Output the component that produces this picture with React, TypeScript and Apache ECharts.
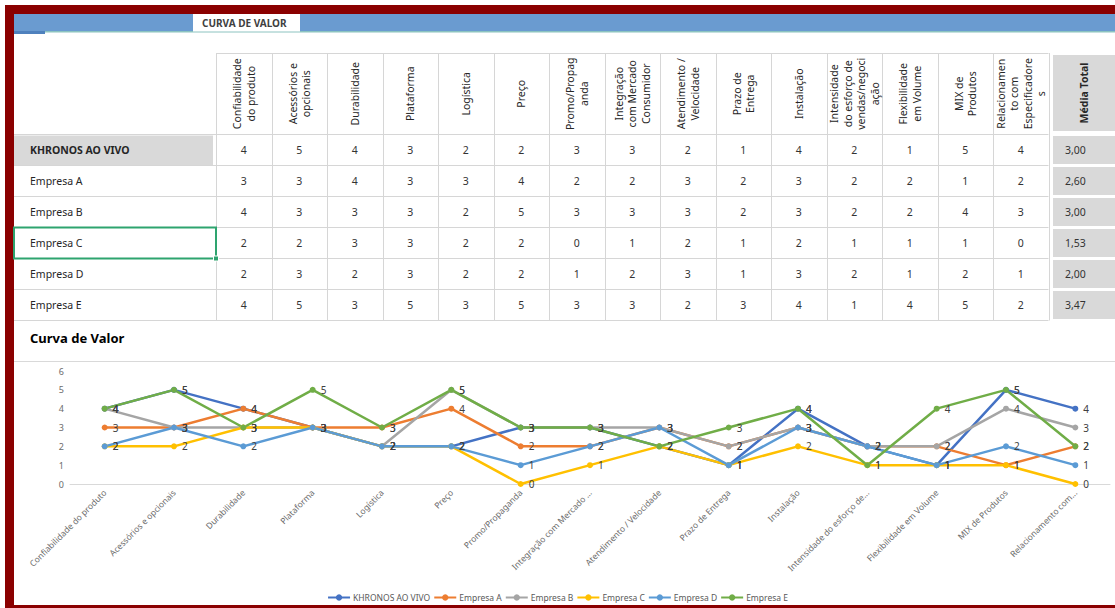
import React, { useEffect, useRef } from "react";
import * as echarts from "echarts";

const headerLabels = [
  "Confiabilidade\ndo produto",
  "Acessórios e\nopcionais",
  "Durabilidade",
  "Plataforma",
  "Logística",
  "Preço",
  "Promo/Propag\nanda",
  "Integração\ncom Mercado\nConsumidor",
  "Atendimento /\nVelocidade",
  "Prazo de\nEntrega",
  "Instalação",
  "Intensidade\ndo esforço de\nvendas/negoci\nação",
  "Flexibilidade\nem Volume",
  "MIX de\nProdutos",
  "Relacionamen\nto com\nEspecificadore\ns",
];

const chartCategories = [
  "Confiabilidade do produto",
  "Acessórios e opcionais",
  "Durabilidade",
  "Plataforma",
  "Logística",
  "Preço",
  "Promo/Propaganda",
  "Integração com Mercado ...",
  "Atendimento / Velocidade",
  "Prazo de Entrega",
  "Instalação",
  "Intensidade do esforço de...",
  "Flexibilidade em Volume",
  "MIX de Produtos",
  "Relacionamento com...",
];

const companies = ["KHRONOS AO VIVO", "Empresa A", "Empresa B", "Empresa C", "Empresa D", "Empresa E"];

const khronos = [4, 5, 4, 3, 2, 2, 3, 3, 2, 1, 4, 2, 1, 5, 4];
const empresaA = [3, 3, 4, 3, 3, 4, 2, 2, 3, 2, 3, 2, 2, 1, 2];
const empresaB = [4, 3, 3, 3, 2, 5, 3, 3, 3, 2, 3, 2, 2, 4, 3];
const empresaC = [2, 2, 3, 3, 2, 2, 0, 1, 2, 1, 2, 1, 1, 1, 0];
const empresaD = [2, 3, 2, 3, 2, 2, 1, 2, 3, 1, 3, 2, 1, 2, 1];
const empresaE = [4, 5, 3, 5, 3, 5, 3, 3, 2, 3, 4, 1, 4, 5, 2];

const averages = ["3,00", "2,60", "3,00", "1,53", "2,00", "3,47"];

const seriesData = [khronos, empresaA, empresaB, empresaC, empresaD, empresaE];
const colors = ["#4472c4", "#ed7d31", "#a5a5a5", "#ffc000", "#5b9bd5", "#70ad47"];

const FONT = "'Noto Sans', 'Open Sans', sans-serif";

function buildGraphic() {
  const els: any[] = [];
  const colLeft = 216;
  const colW = 55.5;
  const headerTop = 53;
  const rowTop0 = 134.5;
  const rowH = 31;
  const nCols = headerLabels.length;
  const tableRight = colLeft + colW * nCols;
  const lineColor = "#d6d6d6";

  // outer frame
  els.push({ type: "rect", shape: { x: 5, y: 5, width: 1110, height: 9 }, style: { fill: "#8a0000" } });
  els.push({ type: "rect", shape: { x: 5, y: 5, width: 9, height: 603 }, style: { fill: "#8a0000" } });
  els.push({ type: "rect", shape: { x: 5, y: 605, width: 1110, height: 3 }, style: { fill: "#8a0000" } });
  // blue band
  els.push({ type: "rect", shape: { x: 14, y: 14, width: 1101, height: 17 }, style: { fill: "#6a9bd0" } });
  els.push({ type: "rect", shape: { x: 14, y: 31, width: 1101, height: 1.5 }, style: { fill: "#8cc3c0" } });
  els.push({ type: "rect", shape: { x: 14, y: 31, width: 31, height: 3 }, style: { fill: "#4f81bd" } });
  els.push({ type: "rect", shape: { x: 193, y: 14, width: 107, height: 17.5 }, style: { fill: "#ffffff" } });
  els.push({
    type: "text", x: 202, y: 23,
    style: { text: "CURVA DE VALOR", font: `bold 10px ${FONT}`, fill: "#404040", verticalAlign: "middle", align: "left" },
  });

  // KHRONOS gray label cell
  els.push({ type: "rect", shape: { x: 14, y: rowTop0 + 1, width: 199, height: rowH - 1.5 }, style: { fill: "#d9d9d9" } });

  // Média Total gray cells
  els.push({ type: "rect", shape: { x: 1053, y: 55, width: 62, height: 76 }, style: { fill: "#d9d9d9" } });
  for (let r = 0; r < companies.length; r++) {
    els.push({
      type: "rect",
      shape: { x: 1053, y: rowTop0 + r * rowH + 1.5, width: 62, height: rowH - 3 },
      style: { fill: "#d9d9d9" },
    });
  }

  // grid lines
  els.push({ type: "line", shape: { x1: colLeft, y1: headerTop + 0.5, x2: tableRight, y2: headerTop + 0.5 }, style: { stroke: lineColor, lineWidth: 1 } });
  for (let r = 0; r <= companies.length; r++) {
    const y = rowTop0 + r * rowH;
    els.push({ type: "line", shape: { x1: 14, y1: y, x2: tableRight, y2: y }, style: { stroke: lineColor, lineWidth: 1 } });
  }
  for (let c = 0; c <= nCols; c++) {
    const x = Math.round(colLeft + c * colW) + 0.5;
    els.push({ type: "line", shape: { x1: x, y1: headerTop, x2: x, y2: rowTop0 + rowH * companies.length }, style: { stroke: lineColor, lineWidth: 1 } });
  }

  // header texts
  headerLabels.forEach((h, c) => {
    els.push({
      type: "text",
      x: colLeft + c * colW + colW / 2,
      y: (headerTop + rowTop0) / 2,
      rotation: Math.PI / 2,
      style: { text: h, font: `10.5px ${FONT}`, fill: "#262626", align: "center", verticalAlign: "middle", lineHeight: 13.5 },
    });
  });
  els.push({
    type: "text", x: 1084, y: 93, rotation: Math.PI / 2,
    style: { text: "Média Total", font: `bold 10.5px ${FONT}`, fill: "#262626", align: "center", verticalAlign: "middle" },
  });

  // rows
  companies.forEach((name, r) => {
    const cy = rowTop0 + r * rowH + rowH / 2;
    els.push({
      type: "text", x: 30, y: cy,
      style: { text: name, font: `${r === 0 ? "bold " : ""}10.5px ${FONT}`, fill: "#262626", align: "left", verticalAlign: "middle" },
    });
    seriesData[r].forEach((v, c) => {
      els.push({
        type: "text", x: colLeft + c * colW + colW / 2, y: cy,
        style: { text: String(v), font: `10.5px ${FONT}`, fill: "#333333", align: "center", verticalAlign: "middle" },
      });
    });
    els.push({
      type: "text", x: 1065, y: cy,
      style: { text: averages[r], font: `10.5px ${FONT}`, fill: "#333333", align: "left", verticalAlign: "middle" },
    });
  });

  // selection border Empresa C
  const selY = rowTop0 + 3 * rowH;
  els.push({ type: "rect", shape: { x: 14, y: selY, width: 202, height: rowH }, style: { fill: "none", stroke: "#2ea46f", lineWidth: 2 } });
  els.push({ type: "rect", shape: { x: 213.5, y: selY + rowH - 2.5, width: 5, height: 5 }, style: { fill: "#2ea46f", stroke: "#ffffff", lineWidth: 1 } });

  // chart title + separator
  els.push({
    type: "text", x: 30, y: 338,
    style: { text: "Curva de Valor", font: `bold 13px ${FONT}`, fill: "#000000", align: "left", verticalAlign: "middle" },
  });
  els.push({ type: "line", shape: { x1: 14, y1: 361.5, x2: 1115, y2: 361.5 }, style: { stroke: "#d9d9d9", lineWidth: 1 } });

  return els;
}

export default function App() {
  const ref = useRef<HTMLDivElement>(null);
  useEffect(() => {
    if (!ref.current) return;
    const chart = echarts.init(ref.current, undefined, { renderer: "svg" });
    chart.setOption({
      animation: false,
      color: colors,
      textStyle: { fontFamily: FONT },
      graphic: { elements: buildGraphic() },
      grid: { left: 70, right: 5, top: 371, bottom: 124 },
      xAxis: {
        type: "category",
        data: chartCategories,
        axisLine: { lineStyle: { color: "#d9d9d9", width: 1 } },
        axisTick: { show: false },
        axisLabel: { rotate: 45, interval: 0, fontSize: 8.5, color: "#6b6b6b", margin: 7, fontFamily: FONT },
      },
      yAxis: {
        type: "value",
        min: 0,
        max: 6,
        interval: 1,
        splitLine: { show: false },
        axisLine: { show: false },
        axisTick: { show: false },
        axisLabel: { fontSize: 9, color: "#6b6b6b", margin: 6, fontFamily: FONT },
      },
      legend: {
        top: 588,
        left: "center",
        itemWidth: 22,
        itemHeight: 8,
        itemGap: 3,
        textStyle: { fontSize: 8.5, color: "#595959", fontFamily: FONT, padding: [0, 0, 0, -2] },
        data: companies,
      },
      series: companies.map((name, i) => ({
        type: "line",
        name,
        data: seriesData[i],
        symbol: "circle",
        symbolSize: 6,
        lineStyle: { width: 2.5, color: colors[i] },
        itemStyle: { color: colors[i] },
        label: { show: true, position: "right", distance: 5, fontSize: 10, color: "#404040", fontFamily: FONT },
      })),
    });
    return () => chart.dispose();
  }, []);
  return (
    <div
      ref={ref}
      style={{ position: "absolute", left: 0, top: 0, width: 1115, height: 608, background: "#ffffff" }}
    />
  );
}
